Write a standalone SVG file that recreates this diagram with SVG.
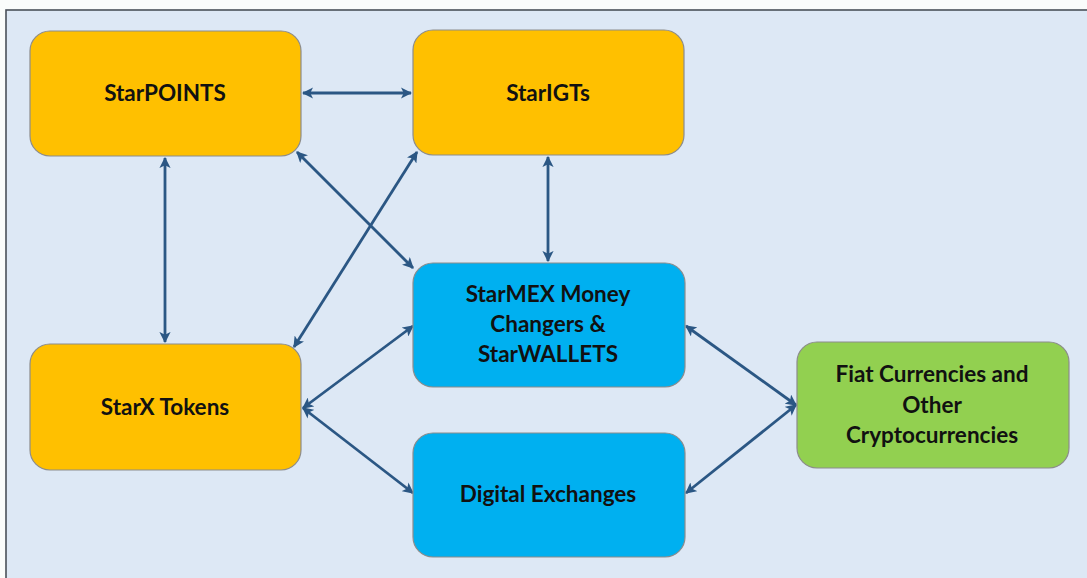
<svg xmlns="http://www.w3.org/2000/svg" width="1087" height="578" viewBox="0 0 1087 578">
  <style>
    .node rect { stroke: #8c8c8c; stroke-width: 1.2; }
    .gold rect { fill: #FFC000; }
    .blue rect { fill: #00B0F0; }
    .green rect { fill: #92D050; }
    .node text { font-family: Lato, "Open Sans", "Liberation Sans", sans-serif; font-weight: bold; font-size: 22.5px; fill: #111; text-anchor: middle; }
    .link { stroke: #2B5784; stroke-width: 2.8; fill: none; marker-start: url(#head); marker-end: url(#head); }
  </style>
  <defs>
    <marker id="head" viewBox="0 0 10 10" refX="9" refY="5" markerWidth="4" markerHeight="4" orient="auto-start-reverse" markerUnits="strokeWidth">
      <path d="M0,0 L10,5 L0,10 L2.5,5 Z" fill="#2B5784"/>
    </marker>
  </defs>

  <!-- page and frame -->
  <rect x="0" y="0" width="1087" height="578" fill="#FAFCFB"/>
  <rect x="6" y="10" width="1090" height="580" fill="#DDE8F5" stroke="#4a5059" stroke-width="1.6"/>

  <!-- connectors -->
  <g id="connectors">
    <line class="link" x1="303" y1="93" x2="411" y2="93"/>
    <line class="link" x1="165" y1="158" x2="165" y2="342"/>
    <line class="link" x1="297" y1="152" x2="413" y2="268"/>
    <line class="link" x1="417" y1="152" x2="294" y2="347"/>
    <line class="link" x1="548" y1="157" x2="548" y2="261"/>
    <line class="link" x1="303" y1="408" x2="413" y2="326"/>
    <line class="link" x1="303" y1="408" x2="413" y2="493"/>
    <line class="link" x1="686" y1="326" x2="796" y2="405"/>
    <line class="link" x1="686" y1="493" x2="796" y2="405"/>
  </g>

  <!-- nodes -->
  <g id="starpoints" class="node gold">
    <rect x="30" y="31" width="271" height="125" rx="20"/>
    <text x="165" y="101">StarPOINTS</text>
  </g>
  <g id="starigts" class="node gold">
    <rect x="413" y="30" width="271" height="125" rx="20"/>
    <text x="548" y="101">StarIGTs</text>
  </g>
  <g id="starx" class="node gold">
    <rect x="30" y="344" width="271" height="126" rx="20"/>
    <text x="165" y="415">StarX Tokens</text>
  </g>
  <g id="starmex" class="node blue">
    <rect x="413" y="263" width="272" height="124" rx="20"/>
    <text x="548" y="302">StarMEX Money</text>
    <text x="548" y="332">Changers &amp;</text>
    <text x="548" y="362">StarWALLETS</text>
  </g>
  <g id="digital" class="node blue">
    <rect x="413" y="433" width="272" height="124" rx="20"/>
    <text x="548" y="502">Digital Exchanges</text>
  </g>
  <g id="fiat" class="node green">
    <rect x="797" y="342" width="272" height="126" rx="20"/>
    <text x="932" y="382">Fiat Currencies and</text>
    <text x="932" y="413">Other</text>
    <text x="932" y="443">Cryptocurrencies</text>
  </g>
</svg>
